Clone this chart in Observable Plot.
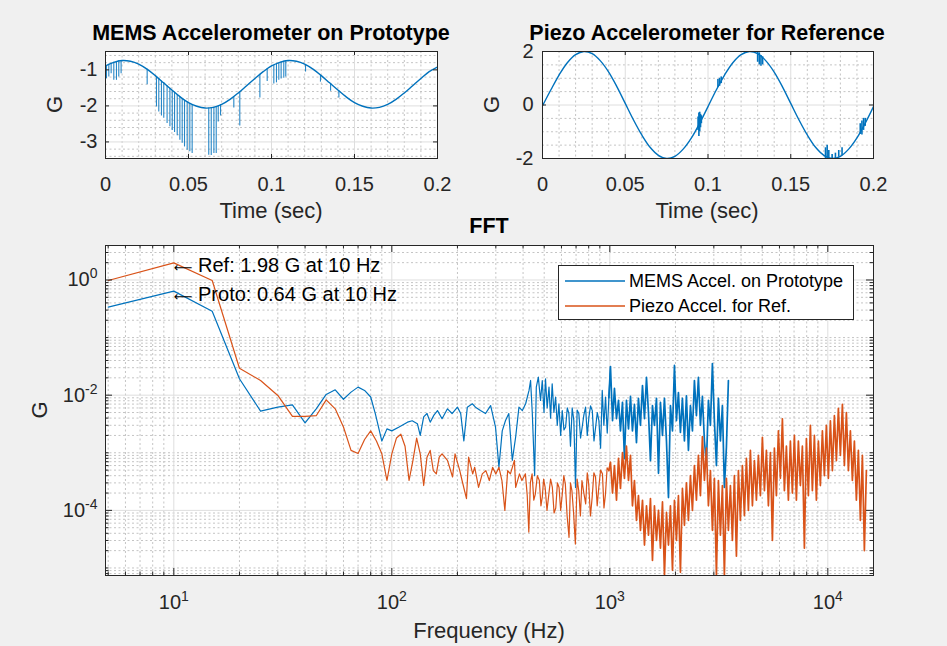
<!DOCTYPE html>
<html><head><meta charset="utf-8">
<script src="https://cdn.jsdelivr.net/npm/d3@7"></script>
<script src="https://cdn.jsdelivr.net/npm/@observablehq/plot@0.6"></script>
<style>
html,body{margin:0;padding:0;background:#f0f0f0;}
#fig{position:relative;width:947px;height:646px;background:#f0f0f0;overflow:hidden;}
</style></head>
<body><div id="fig"></div>
<script>
// ---------------- data: top-left (MEMS time trace) ----------------
const memsTime = [0,0.005,0.01,0.015,0.02,0.025,0.03,0.035,0.04,0.045,0.05,0.055,0.06,0.065,0.07,0.075,0.08,0.085,0.09,0.095,
  0.1,0.105,0.11,0.115,0.12,0.125,0.13,0.135,0.14,0.145,0.15,0.155,0.16,0.165,0.17,0.175,0.18,0.185,0.19,0.195,0.2];
const memsCurve = [-0.89,-0.79,-0.74,-0.76,-0.84,-0.98,-1.16,-1.36,-1.56,-1.75,-1.91,-2.01,-2.06,-2.04,-1.96,-1.82,-1.64,-1.44,-1.24,-1.05,
  -0.89,-0.79,-0.74,-0.76,-0.84,-0.98,-1.16,-1.36,-1.56,-1.75,-1.91,-2.01,-2.06,-2.04,-1.96,-1.82,-1.64,-1.44,-1.24,-1.05,-0.92];
const memsSpikeT = [0.0006,0.002,0.0034,0.005,0.0066,0.008,0.0094,0.0251,
  0.0307,0.0321,0.0337,0.0351,0.0371,0.0388,0.0402,0.0416,0.0432,0.0448,0.0462,0.0476,0.0492,0.0508,0.0522,
  0.0622,0.0637,0.0653,0.0667,0.0679,0.0693,0.0773,0.0809,0.093,0.0974,
  0.1014,0.103,0.1044,0.1058,0.1074,0.1086,0.1205,0.1295,0.1356,0.1406];
const memsSpikeTop = [-0.88,-0.85,-0.82,-0.79,-0.77,-0.75,-0.74,-0.98,
  -1.19,-1.24,-1.31,-1.36,-1.44,-1.51,-1.57,-1.62,-1.69,-1.75,-1.80,-1.85,-1.89,-1.93,-1.96,
  -2.06,-2.05,-2.04,-2.02,-2.0,-1.97,-1.75,-1.61,-1.12,-0.97,
  -0.88,-0.84,-0.81,-0.78,-0.76,-0.74,-0.85,-1.15,-1.38,-1.58];
const memsSpikeBottom = [-1.25,-1.2,-1.11,-1.29,-1.29,-1.2,-1.11,-1.41,
  -2.03,-2.17,-2.28,-2.34,-2.49,-2.58,-2.68,-2.74,-2.83,-2.95,-3.04,-3.14,-3.23,-3.27,-3.32,
  -3.37,-3.38,-3.32,-3.32,-2.45,-2.28,-2.06,-2.56,-1.78,-1.32,
  -1.39,-1.36,-1.29,-1.25,-1.23,-1.2,-1.06,-1.34,-1.59,-1.78];

// ---------------- data: top-right (Piezo time trace) ----------------
const piezoTime = memsTime;
const piezoCurve = [-0.03,0.56,1.12,1.58,1.88,2.0,1.92,1.65,1.23,0.68,0.06,-0.56,-1.12,-1.58,-1.88,-2.0,-1.92,-1.65,-1.23,-0.68,
  -0.06,0.56,1.12,1.58,1.88,2.0,1.92,1.65,1.23,0.68,0.06,-0.56,-1.12,-1.58,-1.88,-2.0,-1.92,-1.65,-1.23,-0.68,-0.06];
const piezoBurstT = [0.094,0.0945,0.095,0.0955,0.096,0.106,0.107,0.108,0.130,0.131,0.132,0.133,
  0.171,0.172,0.173,0.175,0.177,0.179,0.181,0.192,0.193,0.194,0.195];
const piezoBurstLow = [-0.95,-1.18,-1.0,-0.85,-0.7,0.65,0.7,0.8,1.6,1.5,1.45,1.5,
  -2.0,-2.0,-2.0,-2.0,-2.0,-1.95,-1.9,-1.1,-1.12,-0.95,-0.8];
const piezoBurstHigh = [-0.45,-0.3,-0.27,-0.35,-0.4,0.95,1.0,1.05,1.98,1.95,1.85,1.8,
  -1.6,-1.5,-1.7,-1.85,-1.8,-1.7,-1.6,-0.7,-0.6,-0.5,-0.5];

// ---------------- data: FFT ----------------
const memsFreq = [5,10,15,20,25,30,35,40,45,50,
  55,60,65,70,75,80,84,90,95,100,
  108,118,124,131,135,140,145,150,156,162,
  170,180,189,200,207,214,222,234,242,255,
  269,284,299,310,321,332,344,357,370,383,
  397,411,426,433,441,452,460,470,481,490,
  499,507,516,526,535,544,554,564,574,584,
  595,605,616,627,638,649,660,672,684,696,
  708,721,734,747,760,774,788,802,816,831,
  846,861,876,891,907,923,939,956,973,990,
  1007,1029,1050,1073,1096,1119,1143,1167,1192,1218,
  1244,1270,1297,1325,1353,1382,1412,1442,1473,1504,
  1536,1569,1602,1637,1672,1707,1744,1781,1819,1858,
  1897,1938,1979,2021,2064,2108,2153,2199,2246,2294,
  2343,2393,2444,2496,2549,2604,2659,2716,2774,2833,
  2894,2955,3018,3083,3149,3216,3284,3354,3426,3499];
const memsG = [0.337,0.64,0.287,0.0193,0.0053,0.0062,0.0068,0.0033,0.0058,0.0103,
  0.0124,0.0085,0.0113,0.0138,0.0121,0.0093,0.0048,0.0016,0.0026,0.0024,
  0.0028,0.0034,0.0036,0.0032,0.002,0.0042,0.0048,0.0034,0.0045,0.0054,
  0.0039,0.0058,0.0048,0.0062,0.0048,0.0016,0.0062,0.0071,0.0062,0.0054,
  0.0048,0.0066,0.0028,0.00056,0.0024,0.0036,0.0048,0.00074,0.0019,0.0062,
  0.0054,0.0071,0.0121,0.018,0.0048,0.0004,0.0138,0.0206,0.0081,0.018,
  0.005,0.0192,0.006,0.0138,0.004,0.0158,0.005,0.0093,0.003,0.0071,
  0.002,0.0054,0.0025,0.0028,0.006,0.0048,0.0013,0.006,0.0036,0.00025,
  0.0055,0.0048,0.0018,0.0028,0.0045,0.0062,0.002,0.0042,0.0065,0.0054,
  0.0016,0.0028,0.005,0.0036,0.0012,0.0121,0.003,0.0093,0.0022,0.009,
  0.0315,0.0036,0.0131,0.0039,0.0081,0.0024,0.0075,0.00079,0.0081,0.0026,
  0.0095,0.0024,0.0069,0.0015,0.0088,0.003,0.0147,0.0039,0.0203,0.005,
  0.00073,0.0066,0.003,0.0088,0.00044,0.0075,0.002,0.0088,0.0016,0.000167,
  0.0066,0.0024,0.0328,0.0036,0.0111,0.00225,0.0088,0.0016,0.0097,0.0011,
  0.0066,0.0024,0.018,0.0044,0.0203,0.003,0.0095,0.0016,0.00065,0.0081,
  0.003,0.0355,0.0036,0.0006,0.0088,0.0016,0.0066,0.00025,0.00124,0.018];

const piezoFreq = [5,10,15,20,25,30,35,40,45,50,
  55,60,65,70,75,80,85,90,95,100,
  105,110,115,120,125,130,135,140,145,150,
  155,160,165,170,180,190,195,205,210,220,
  225,235,240,250,260,270,280,290,300,310,
  320,330,340,350,365,370,385,395,410,418,
  425,432,440,448,455,465,475,483,490,497,
  505,515,525,535,545,555,565,575,585,595,
  605,615,625,637,650,660,670,682,695,708,
  720,733,745,760,775,788,800,815,830,845,
  860,875,890,907,925,940,955,972,990,
  1007,1029,1050,1073,1096,1119,1143,1167,1192,1218,
  1244,1270,1297,1325,1353,1382,1412,1442,1473,1504,
  1536,1569,1602,1637,1672,1707,1744,1781,1819,1858,
  1897,1938,1979,2021,2064,2108,2153,2199,2246,2294,
  2343,2393,2444,2496,2549,2604,2659,2716,2774,2833,
  2894,2955,3018,3083,3149,3216,3284,3354,3426,3499,
  3574,3650,3728,3808,3889,3972,4057,4143,4232,4322,
  4414,4509,4605,4703,4803,4906,5011,5118,5227,5338,
  5452,5569,5687,5809,5933,6059,6189,6321,6456,6593,
  6734,6878,7025,7174,7328,7484,7644,7807,7974,8144,
  8318,8495,8677,8862,9051,9244,9442,9643,9849,10059,
  10274,10494,10718,10947,11180,11419,11663,11912,12166,12426,
  12691,12962,13239,13521,13810,14105,14406,14713,15027];
const piezoG = [0.98,1.98,0.98,0.0294,0.018,0.0099,0.0043,0.0043,0.0044,0.0083,
  0.0058,0.0028,0.0011,0.00097,0.0017,0.0024,0.0016,0.00096,0.00033,0.00096,
  0.0018,0.0021,0.0013,0.00033,0.00074,0.0018,0.00096,0.00027,0.00084,0.0011,
  0.00049,0.00043,0.00084,0.00096,0.00074,0.00038,0.00096,0.00049,0.00033,0.00016,
  0.00084,0.00043,0.00056,0.00025,0.00043,0.00049,0.00033,0.00056,0.00043,0.00056,
  0.00033,0.0001,0.00049,0.00043,0.00074,0.00025,0.00043,0.00033,0.00043,0.00018,
  0.000042,0.0003,0.00043,0.00015,0.00019,0.0004,0.00033,0.00012,0.00017,0.00035,
  0.00025,0.0001,0.00019,0.00035,0.00025,0.00009,0.00011,0.0003,0.00025,0.0001,
  0.00019,0.0004,0.00029,0.00008,0.000034,0.0003,0.00022,0.00009,0.000026,0.00035,
  0.00022,0.00008,0.00033,0.0002,0.00013,0.00045,0.00029,0.00008,0.00017,0.00045,
  0.00038,0.00012,0.00025,0.0005,0.00043,0.00011,0.00019,0.00055,0.00049,
  0.00068,0.0002,0.0006,0.00015,0.0008,0.00024,0.00101,0.00036,0.0013,0.00033,
  0.0009,0.00012,0.00033,0.000067,0.00018,0.000045,0.00015,0.000025,0.00012,0.000037,
  0.00016,0.0000135,0.00012,0.00003,0.0001,0.000022,0.00014,0.0000074,0.000092,0.000025,
  0.00012,0.0000091,0.00015,0.00003,0.00018,0.0000084,0.00024,0.000055,0.0003,0.000067,
  0.0004,0.0001,0.0006,0.00015,0.0009,0.00018,0.0019,0.00033,0.0012,0.00012,
  0.00049,0.000045,0.00036,0.0000074,0.00033,0.000037,0.00027,0.0000074,0.00036,0.000045,
  0.00027,0.00003,0.0004,0.000016,0.00049,0.000067,0.0006,0.000081,0.0008,0.0001,
  0.0011,0.00012,0.00073,0.00015,0.0009,0.00018,0.00185,0.00022,0.0011,0.00012,
  0.00101,0.00003,0.0012,0.00018,0.0024,0.00036,0.0039,0.00022,0.0013,0.00015,
  0.0016,0.0002,0.002,0.00015,0.0016,0.00027,0.0013,0.000022,0.00177,0.00018,
  0.003,0.00022,0.002,0.00015,0.0016,0.00027,0.0024,0.0004,0.003,0.00036,
  0.0036,0.00049,0.0044,0.00073,0.0059,0.0009,0.0069,0.0006,0.005,0.00049,
  0.0024,0.00033,0.0016,0.00015,0.0011,0.000067,0.0009,0.00002,0.00049];

const fftLegend = ["MEMS Accel. on Prototype", "Piezo Accel. for Ref."];
const annotFreq = [10, 10];
const annotG = [1.98, 0.64];
const annotText = ["\u2190 Ref: 1.98 G at 10 Hz", "\u2190 Proto: 0.64 G at 10 Hz"];

// ---------------- tick values ----------------
const timeTicks = [0, 0.05, 0.1, 0.15, 0.2];
const timeMinor = [0.01,0.02,0.03,0.04,0.06,0.07,0.08,0.09,0.11,0.12,0.13,0.14,0.16,0.17,0.18,0.19];
const memsYTicks = [-3, -2, -1];
const memsYMinor = [-3.4,-3.2,-2.8,-2.6,-2.4,-2.2,-1.8,-1.6,-1.4,-1.2,-0.8,-0.6];
const piezoYTicks = [-2, 0, 2];
const piezoYMinor = [-1.5,-1,-0.5,0.5,1,1.5];
const fftXTicks = [10, 100, 1000, 10000];
const fftXMinor = [5,6,7,8,9,20,30,40,50,60,70,80,90,200,300,400,500,600,700,800,900,
  2000,3000,4000,5000,6000,7000,8000,9000];
const fftYTicks = [1e-4, 1e-2, 1];
const fftYMinor = [8e-6,9e-6,1e-5,2e-5,3e-5,4e-5,5e-5,6e-5,7e-5,8e-5,9e-5,
  2e-4,3e-4,4e-4,5e-4,6e-4,7e-4,8e-4,9e-4,1e-3,2e-3,3e-3,4e-3,5e-3,6e-3,7e-3,8e-3,9e-3,
  0.02,0.03,0.04,0.05,0.06,0.07,0.08,0.09,0.1,0.2,0.3,0.4,0.5,0.6,0.7,0.8,0.9,2,3];

// ---------------- styling ----------------
const FONT = '"Liberation Sans", Arial, Helvetica, sans-serif';
const AX = "#262626", GRID = "#dedede", MGRID = "#c4c4c4", BLUE = "#0072BD", ORANGE = "#D95319";
const fig = document.getElementById("fig");

function place(node, left, top, w, h) {
  const d = document.createElement("div");
  d.style.cssText = `position:absolute;left:${left}px;top:${top}px;width:${w}px;height:${h}px;`;
  d.appendChild(node);
  fig.appendChild(d);
}
function gridMarks(xMaj, xMin, yMaj, yMin) {
  return [
    Plot.frame({fill: "white"}),
    Plot.ruleX(xMin, {x: d => d, stroke: MGRID, strokeDasharray: "2,2.5"}),
    Plot.ruleY(yMin, {y: d => d, stroke: MGRID, strokeDasharray: "2,2.5"}),
    Plot.ruleX(xMaj, {x: d => d, stroke: GRID}),
    Plot.ruleY(yMaj, {y: d => d, stroke: GRID})
  ];
}
function tickMarks(xs, ys, fw, fh, len) {
  return [
    Plot.ruleX(xs, {x: d => d, stroke: AX, insetTop: fh - len}),
    Plot.ruleX(xs, {x: d => d, stroke: AX, insetBottom: fh - len}),
    Plot.ruleY(ys, {y: d => d, stroke: AX, insetRight: fw - len}),
    Plot.ruleY(ys, {y: d => d, stroke: AX, insetLeft: fw - len})
  ];
}
const NS = "http://www.w3.org/2000/svg";
function superscripts(svg) {
  svg.querySelectorAll("text").forEach(t => {
    const s = t.textContent;
    const m = /^10\^(-?\d+)$/.exec(s);
    if (m) {
      t.textContent = "10";
      const ts = document.createElementNS(NS, "tspan");
      ts.setAttribute("dy", "-8");
      ts.setAttribute("font-size", "14px");
      ts.textContent = m[1];
      t.appendChild(ts);
    } else if (s.startsWith("\u2190")) {
      t.textContent = "";
      const a = document.createElementNS(NS, "tspan");
      a.setAttribute("font-family", "DejaVu Sans");
      a.setAttribute("font-size", "13px");
      a.textContent = "\u27F5";
      t.appendChild(a);
      t.appendChild(document.createTextNode(s.slice(1)));
    }
  });
}
const baseStyle = {background: "transparent", fontSize: "20px", fontFamily: FONT, color: AX, overflow: "visible"};
const fmt = d => String(d);

// ---------------- top-left ----------------
{
  const W = 470, H = 230, ml = 105, mr = 33, mt = 51, mb = 72;
  const fw = W - ml - mr, fh = H - mt - mb;
  const idx = d3.range(memsTime.length), sIdx = d3.range(memsSpikeT.length);
  const svg = Plot.plot({
    width: W, height: H, marginLeft: ml, marginRight: mr, marginTop: mt, marginBottom: mb,
    style: baseStyle,
    x: {domain: [0, 0.2], ticks: timeTicks, tickFormat: fmt, tickSize: 0, tickPadding: 18, label: null},
    y: {domain: [-3.46, -0.49], ticks: memsYTicks, tickFormat: fmt, tickSize: 0, tickPadding: 8, label: null},
    marks: [
      ...gridMarks(timeTicks, timeMinor, memsYTicks, memsYMinor),
      Plot.ruleX(sIdx, {x: i => memsSpikeT[i], y1: i => memsSpikeTop[i], y2: i => memsSpikeBottom[i], stroke: BLUE, strokeWidth: 1.1, strokeOpacity: 0.85}),
      Plot.line(idx, {x: i => memsTime[i], y: i => memsCurve[i], stroke: BLUE, strokeWidth: 1.4, curve: "catmull-rom", clip: true}),
      ...tickMarks(timeTicks, memsYTicks, fw, fh, 4),
      Plot.frame({stroke: AX})
    ]
  });
  place(svg, 0, 0, W, H);
}

// ---------------- top-right ----------------
{
  const W = 477, H = 230, ml = 72, mr = 74, mt = 51, mb = 72;
  const fw = W - ml - mr, fh = H - mt - mb;
  const idx = d3.range(piezoTime.length), bIdx = d3.range(piezoBurstT.length);
  const svg = Plot.plot({
    width: W, height: H, marginLeft: ml, marginRight: mr, marginTop: mt, marginBottom: mb,
    style: baseStyle,
    x: {domain: [0, 0.2], ticks: timeTicks, tickFormat: fmt, tickSize: 0, tickPadding: 18, label: null},
    y: {domain: [-2, 2], ticks: piezoYTicks, tickFormat: fmt, tickSize: 0, tickPadding: 9, label: null},
    marks: [
      ...gridMarks(timeTicks, timeMinor, piezoYTicks, piezoYMinor),
      Plot.line(idx, {x: i => piezoTime[i], y: i => piezoCurve[i], stroke: BLUE, strokeWidth: 1.4, curve: "catmull-rom", clip: true}),
      Plot.ruleX(bIdx, {x: i => piezoBurstT[i], y1: i => piezoBurstLow[i], y2: i => piezoBurstHigh[i], stroke: BLUE, strokeWidth: 1.6, clip: true}),
      ...tickMarks(timeTicks, piezoYTicks, fw, fh, 4),
      Plot.frame({stroke: AX})
    ]
  });
  place(svg, 470, 0, W, H);
}

// ---------------- FFT ----------------
{
  const W = 947, H = 416, ml = 105, mr = 74, mt = 15, mb = 71;
  const fw = W - ml - mr, fh = H - mt - mb;
  const aIdx = d3.range(annotText.length);
  // low-frequency part and dense high-frequency part of each spectrum (same arrays, split near 1 kHz)
  const mLow = d3.range(memsFreq.length).filter(i => memsFreq[i] <= 1007);
  const mHigh = d3.range(memsFreq.length).filter(i => memsFreq[i] >= 990);
  const pLow = d3.range(piezoFreq.length).filter(i => piezoFreq[i] <= 1007);
  const pHigh = d3.range(piezoFreq.length).filter(i => piezoFreq[i] >= 990);
  const logFmt = d => "10^" + Math.round(Math.log10(d));
  const svg = Plot.plot({
    width: W, height: H, marginLeft: ml, marginRight: mr, marginTop: mt, marginBottom: mb,
    style: baseStyle,
    x: {type: "log", domain: [4.86, 16200], ticks: fftXTicks, tickFormat: logFmt, tickSize: 0, tickPadding: 19, label: null},
    y: {type: "log", domain: [7.4e-6, 3.97], ticks: fftYTicks, tickFormat: logFmt, tickSize: 0, tickPadding: 8, label: null},
    marks: [
      ...gridMarks(fftXTicks, fftXMinor, fftYTicks, fftYMinor),
      Plot.line(mLow, {x: i => memsFreq[i], y: i => memsG[i], stroke: BLUE, strokeWidth: 1.2, clip: true}),
      Plot.line(mHigh, {x: i => memsFreq[i], y: i => memsG[i], stroke: BLUE, strokeWidth: 1.7, clip: true}),
      Plot.line(pLow, {x: i => piezoFreq[i], y: i => piezoG[i], stroke: ORANGE, strokeWidth: 1.2, clip: true}),
      Plot.line(pHigh, {x: i => piezoFreq[i], y: i => piezoG[i], stroke: ORANGE, strokeWidth: 1.7, clip: true}),
      Plot.text(aIdx, {x: i => annotFreq[i], y: i => annotG[i], text: i => annotText[i], textAnchor: "start", fill: "#000", fontSize: 20, dy: 3}),
      ...tickMarks(fftXTicks, fftYTicks, fw, fh, 7),
      ...tickMarks(fftXMinor, fftYMinor, fw, fh, 3.5),
      Plot.frame({stroke: AX})
    ]
  });
  superscripts(svg);
  place(svg, 0, 230, W, H);
}

// ---------------- titles, labels, legend ----------------
{
  const ov = document.createElementNS(NS, "svg");
  ov.setAttribute("width", 947); ov.setAttribute("height", 646);
  ov.style.cssText = "position:absolute;left:0;top:0;pointer-events:none;overflow:visible";
  ov.setAttribute("font-family", FONT);
  const add = (tag, attrs, text) => {
    const e = document.createElementNS(NS, tag);
    for (const k in attrs) e.setAttribute(k, attrs[k]);
    if (text != null) e.textContent = text;
    ov.appendChild(e);
    return e;
  };
  const title = {"text-anchor": "middle", "font-weight": "bold", "font-size": 21.5, fill: "#000"};
  add("text", {...title, x: 271, y: 40}, "MEMS Accelerometer on Prototype");
  add("text", {...title, x: 707, y: 40}, "Piezo Accelerometer for Reference");
  add("text", {...title, x: 489, y: 233}, "FFT");
  const lab = {"text-anchor": "middle", "font-size": 22, fill: AX};
  add("text", {...lab, x: 271, y: 218}, "Time (sec)");
  add("text", {...lab, x: 707, y: 218}, "Time (sec)");
  add("text", {...lab, x: 489, y: 638}, "Frequency (Hz)");
  add("text", {...lab, transform: "translate(62,104.5) rotate(-90)"}, "G");
  add("text", {...lab, transform: "translate(499,104.5) rotate(-90)"}, "G");
  add("text", {...lab, transform: "translate(47,410) rotate(-90)"}, "G");
  // legend
  add("rect", {x: 558.5, y: 265.5, width: 295, height: 54, fill: "white", stroke: AX, "stroke-width": 1});
  const cols = [BLUE, ORANGE], ys = [281, 306];
  fftLegend.forEach((t, i) => {
    add("line", {x1: 565, x2: 625, y1: ys[i], y2: ys[i], stroke: cols[i], "stroke-width": 1.3});
    add("text", {x: 629, y: ys[i] + 6.3, "font-size": 18, fill: "#000"}, t);
  });
  fig.appendChild(ov);
}
</script>
</body></html>
